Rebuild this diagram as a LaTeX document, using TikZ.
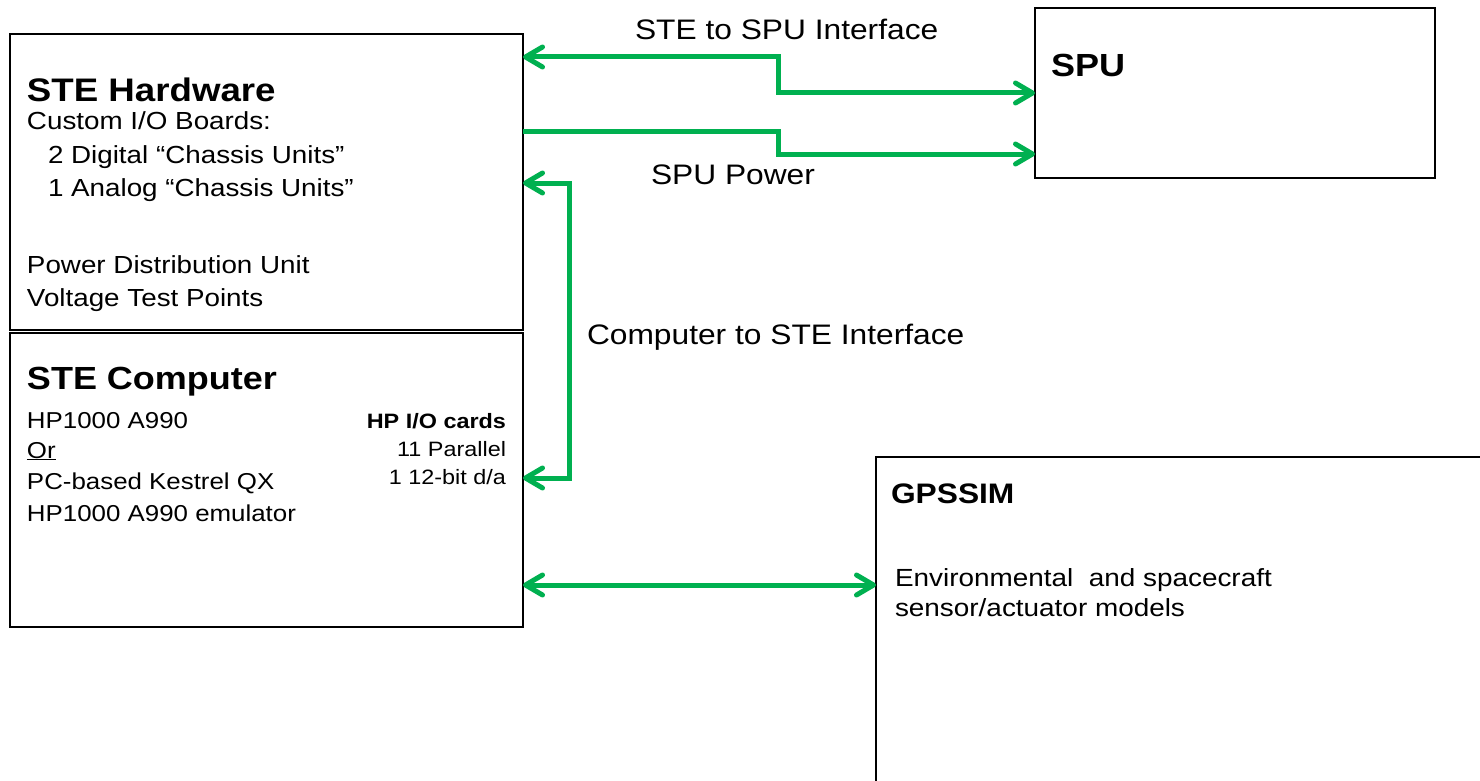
\documentclass[tikz,border=0pt]{standalone}
\usepackage{fontspec}
\setmainfont{Liberation Sans}[FakeStretch=1.125]
\usetikzlibrary{arrows.meta,calc}
\definecolor{arrgreen}{HTML}{00B050}
\newcommand{\myfs}[1]{\fontsize{#1}{#1}\selectfont}
\begin{document}
\begin{tikzpicture}[x=1pt,y=-1pt,
  box/.style={draw=black,line width=2pt,anchor=north west,inner sep=0pt,outer sep=0pt},
  txt/.style={anchor=base west,inner sep=0pt,outer sep=0pt,text=black},
  rtxt/.style={anchor=base east,inner sep=0pt,outer sep=0pt,text=black},
  conn/.style={draw=arrgreen,line width=5pt},
  tipx/.tip={Straight Barb[length=17pt,width=20pt,round]},
  biarr/.style={conn,tipx-tipx},
  onearr/.style={conn,-tipx}]
\useasboundingbox (0,0) rectangle (1480,781);
\clip (0,0) rectangle (1480,781);
% boxes
\node[box,minimum width=513pt,minimum height=296pt] (hw) at (10,34) {};
\node[box,minimum width=513pt,minimum height=294pt] (comp) at (10,333) {};
\node[box,minimum width=400pt,minimum height=170pt] (spu) at (1035,8) {};
\node[box,minimum width=700pt,minimum height=400pt] (gps) at (876,457) {};
% STE Hardware text
\node[txt,font=\myfs{32.6}\bfseries] (hwT) at (27,101.7) {STE Hardware};
\node[txt,font=\myfs{24.7}] (hw1) at (27,130) {Custom I/O Boards:};
\node[txt,font=\myfs{24.7}] (hw2) at (48,163) {2 Digital “Chassis Units”};
\node[txt,font=\myfs{24.7}] (hw3) at (48,196) {1 Analog “Chassis Units”};
\node[txt,font=\myfs{24.7}] (hw4) at (27,273) {Power Distribution Unit};
\node[txt,font=\myfs{24.7}] (hw5) at (27,306) {Voltage Test Points};
% STE Computer text
\node[txt,font=\myfs{32}\bfseries] (cT) at (27,389.4) {STE Computer};
\node[txt,font=\myfs{23}] (c1) at (27,428) {HP1000 A990};
\node[txt,font=\myfs{23}] (c2) at (27,458) {\underline{Or}};
\node[txt,font=\myfs{23}] (c3) at (27,489) {PC-based Kestrel QX};
\node[txt,font=\myfs{23}] (c4) at (27,521) {HP1000 A990 emulator};
\node[rtxt,font=\myfs{20.8}\bfseries] (r1) at (506,428.4) {HP I/O cards};
\node[rtxt,font=\myfs{20.8}] (r2) at (506,456.4) {11 Parallel};
\node[rtxt,font=\myfs{20.8}] (r3) at (506,484.4) {1 12-bit d/a};
% SPU and GPSSIM text
\node[txt,font=\myfs{32}\bfseries] (spuT) at (1051,77) {SPU};
\node[txt,font=\myfs{28.2}\bfseries] (gT) at (891,503) {GPSSIM};
\node[txt,font=\myfs{24.8}] (g1t) at (895,586) {Environmental\ \ and spacecraft};
\node[txt,font=\myfs{24.8}] (g2t) at (895,616) {sensor/actuator models};
% connector labels
\node[txt,font=\myfs{28.2}] (l1) at (635,40) {STE to SPU Interface};
\node[txt,font=\myfs{28.2}] (l2) at (651,184) {SPU Power};
\node[txt,font=\myfs{28.2}] (l3) at (587,344) {Computer to STE Interface};
% connectors
\draw[biarr] ([yshift=-23pt]hw.north east) -- ++(255,0) |- ([yshift=-85pt]spu.north west);
\draw[onearr] ([yshift=-98pt]hw.north east) -- ++(255,0) |- ([yshift=-146pt]spu.north west);
\draw[biarr] ([yshift=-149pt]hw.north east) -- ++(46,0) |- ([yshift=-145pt]comp.north east);
\draw[biarr] ([yshift=-252pt]comp.north east) coordinate (ga) -- (ga -| gps.west);
\end{tikzpicture}
\end{document}
